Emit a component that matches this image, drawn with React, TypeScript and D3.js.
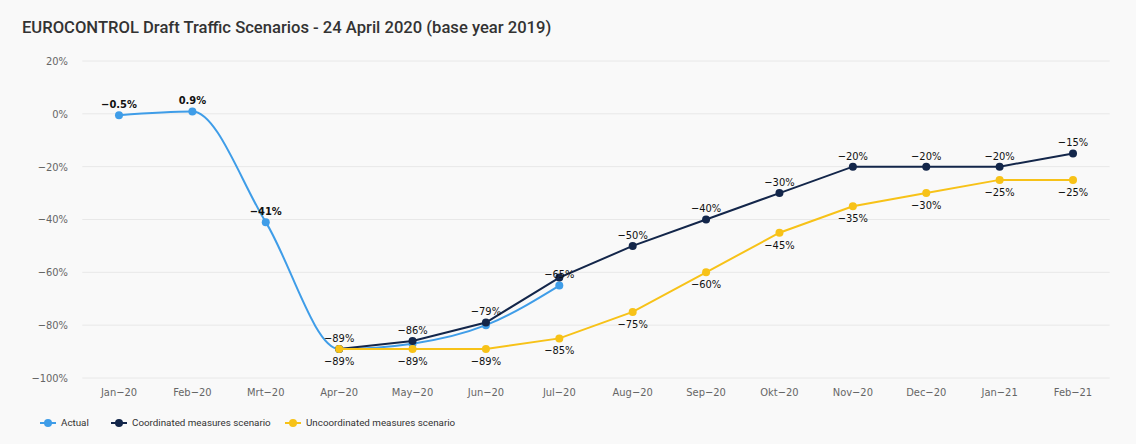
import React, { useEffect } from "react";
import * as d3 from "d3";

const categories = ["Jan-20", "Feb-20", "Mrt-20", "Apr-20", "May-20", "Jun-20", "Jul-20", "Aug-20", "Sep-20", "Okt-20", "Nov-20", "Dec-20", "Jan-21", "Feb-21"];
const actual: (number | null)[] = [-0.5, 0.9, -41, -89, -87, -80, -65, null, null, null, null, null, null, null];
const coordinated: (number | null)[] = [null, null, null, -89, -86, -79, -62, -50, -40, -30, -20, -20, -20, -15];
const uncoordinated: (number | null)[] = [null, null, null, -89, -89, -89, -85, -75, -60, -45, -35, -30, -25, -25];
// which points show a data label
const actualLabels = [true, true, true, false, false, false, true, false, false, false, false, false, false, false];
const coordinatedLabels = [false, false, false, true, true, true, false, true, true, true, true, true, true, true];
const uncoordinatedLabels = [false, false, false, true, true, true, true, true, true, true, true, true, true, true];
const yTicks = [20, 0, -20, -40, -60, -80, -100];

const title = "EUROCONTROL Draft Traffic Scenarios - 24 April 2020 (base year 2019)";
const seriesNames = ["Actual", "Coordinated measures scenario", "Uncoordinated measures scenario"];
const colors = ["#3f9de8", "#13264a", "#f7c218"];

const W = 1136, H = 444;
const left = 82.3, right = 1109.7, top = 61, bottom = 378;
const labelFont = "'DejaVu Sans Condensed', 'DejaVu Sans', sans-serif";

function fmt(v: number) {
  const s = Number.isInteger(v) ? String(v) : v.toFixed(1);
  return s.replace("-", "\u2212") + "%";
}

export default function App() {
  useEffect(() => {
    document.body.style.margin = "0";
    document.body.style.background = "#f9f9f9";
  }, []);

  const x = d3.scaleBand<string>().domain(categories).range([left, right]).padding(0);
  const cx = (c: string) => (x(c) as number) + x.bandwidth() / 2;
  const y = d3.scaleLinear().domain([-100, 20]).range([bottom, top]);

  type P = { c: string; v: number; lab: boolean; i: number };
  const mk = (arr: (number | null)[], labs: boolean[]): P[] =>
    arr.map((v, i) => ({ c: categories[i], v: v as number, lab: labs[i], i })).filter((d) => d.v !== null && d.v !== undefined);

  const sActual = mk(actual, actualLabels);
  const sCoord = mk(coordinated, coordinatedLabels);
  const sUncoord = mk(uncoordinated, uncoordinatedLabels);

  const splineGen = d3.line<P>().x((d) => cx(d.c)).y((d) => y(d.v)).curve(d3.curveMonotoneX);
  const lineGen = d3.line<P>().x((d) => cx(d.c)).y((d) => y(d.v));

  const series = [
    { data: sActual, path: splineGen(sActual), color: colors[0], above: true, bold: true },
    { data: sCoord, path: lineGen(sCoord), color: colors[1], above: true, bold: false },
    { data: sUncoord, path: lineGen(sUncoord), color: colors[2], above: false, bold: false },
  ];

  const legendItems = [
    { x: 40, name: seriesNames[0], color: colors[0] },
    { x: 111, name: seriesNames[1], color: colors[1] },
    { x: 285, name: seriesNames[2], color: colors[2] },
  ];

  return (
    <svg width={W} height={H} style={{ display: "block" }}>
      <rect x={0} y={0} width={W} height={H} fill="#f9f9f9" />
      <text x={22} y={33} fontFamily="Roboto, sans-serif" fontSize={16.6} fontWeight={500} fill="#333">{title}</text>
      {yTicks.map((t) => (
        <g key={t}>
          <line x1={left} x2={right} y1={y(t)} y2={y(t)} stroke="#e8e8e8" strokeWidth={1} />
          <text x={68} y={y(t)} dy="0.35em" textAnchor="end" fontFamily={labelFont} fontSize={11} fill="#666">
            {fmt(t)}
          </text>
        </g>
      ))}
      {categories.map((c) => (
        <text key={c} x={cx(c)} y={396} textAnchor="middle" fontFamily={labelFont} fontSize={11} fill="#666">
          {c.replace("-", "\u2212")}
        </text>
      ))}
      {series.map((s, i) => (
        <g key={i}>
          <path d={s.path || ""} fill="none" stroke={s.color} strokeWidth={2} />
          {s.data.map((d) => (
            <circle key={d.c} cx={cx(d.c)} cy={y(d.v)} r={4} fill={s.color} />
          ))}
        </g>
      ))}
      {series.map((s, i) => (
        <g key={"l" + i}>
          {s.data.filter((d) => d.lab).map((d) => (
            <text
              key={d.c}
              x={cx(d.c)}
              y={y(d.v) + (s.above ? -11 : 12)}
              dy="0.35em"
              textAnchor="middle"
              fontFamily={labelFont}
              fontSize={11}
              fontWeight={s.bold && d.i < 3 ? "bold" : "normal"}
              fill="#111"
            >
              {fmt(d.v)}
            </text>
          ))}
        </g>
      ))}
      {legendItems.map((l) => (
        <g key={l.name}>
          <line x1={l.x} x2={l.x + 16} y1={423} y2={423} stroke={l.color} strokeWidth={2} />
          <circle cx={l.x + 8} cy={423} r={4} fill={l.color} />
          <text x={l.x + 21} y={423} dy="0.35em" fontFamily="Roboto, sans-serif" fontSize={9.8} fill="#333">
            {l.name}
          </text>
        </g>
      ))}
    </svg>
  );
}
